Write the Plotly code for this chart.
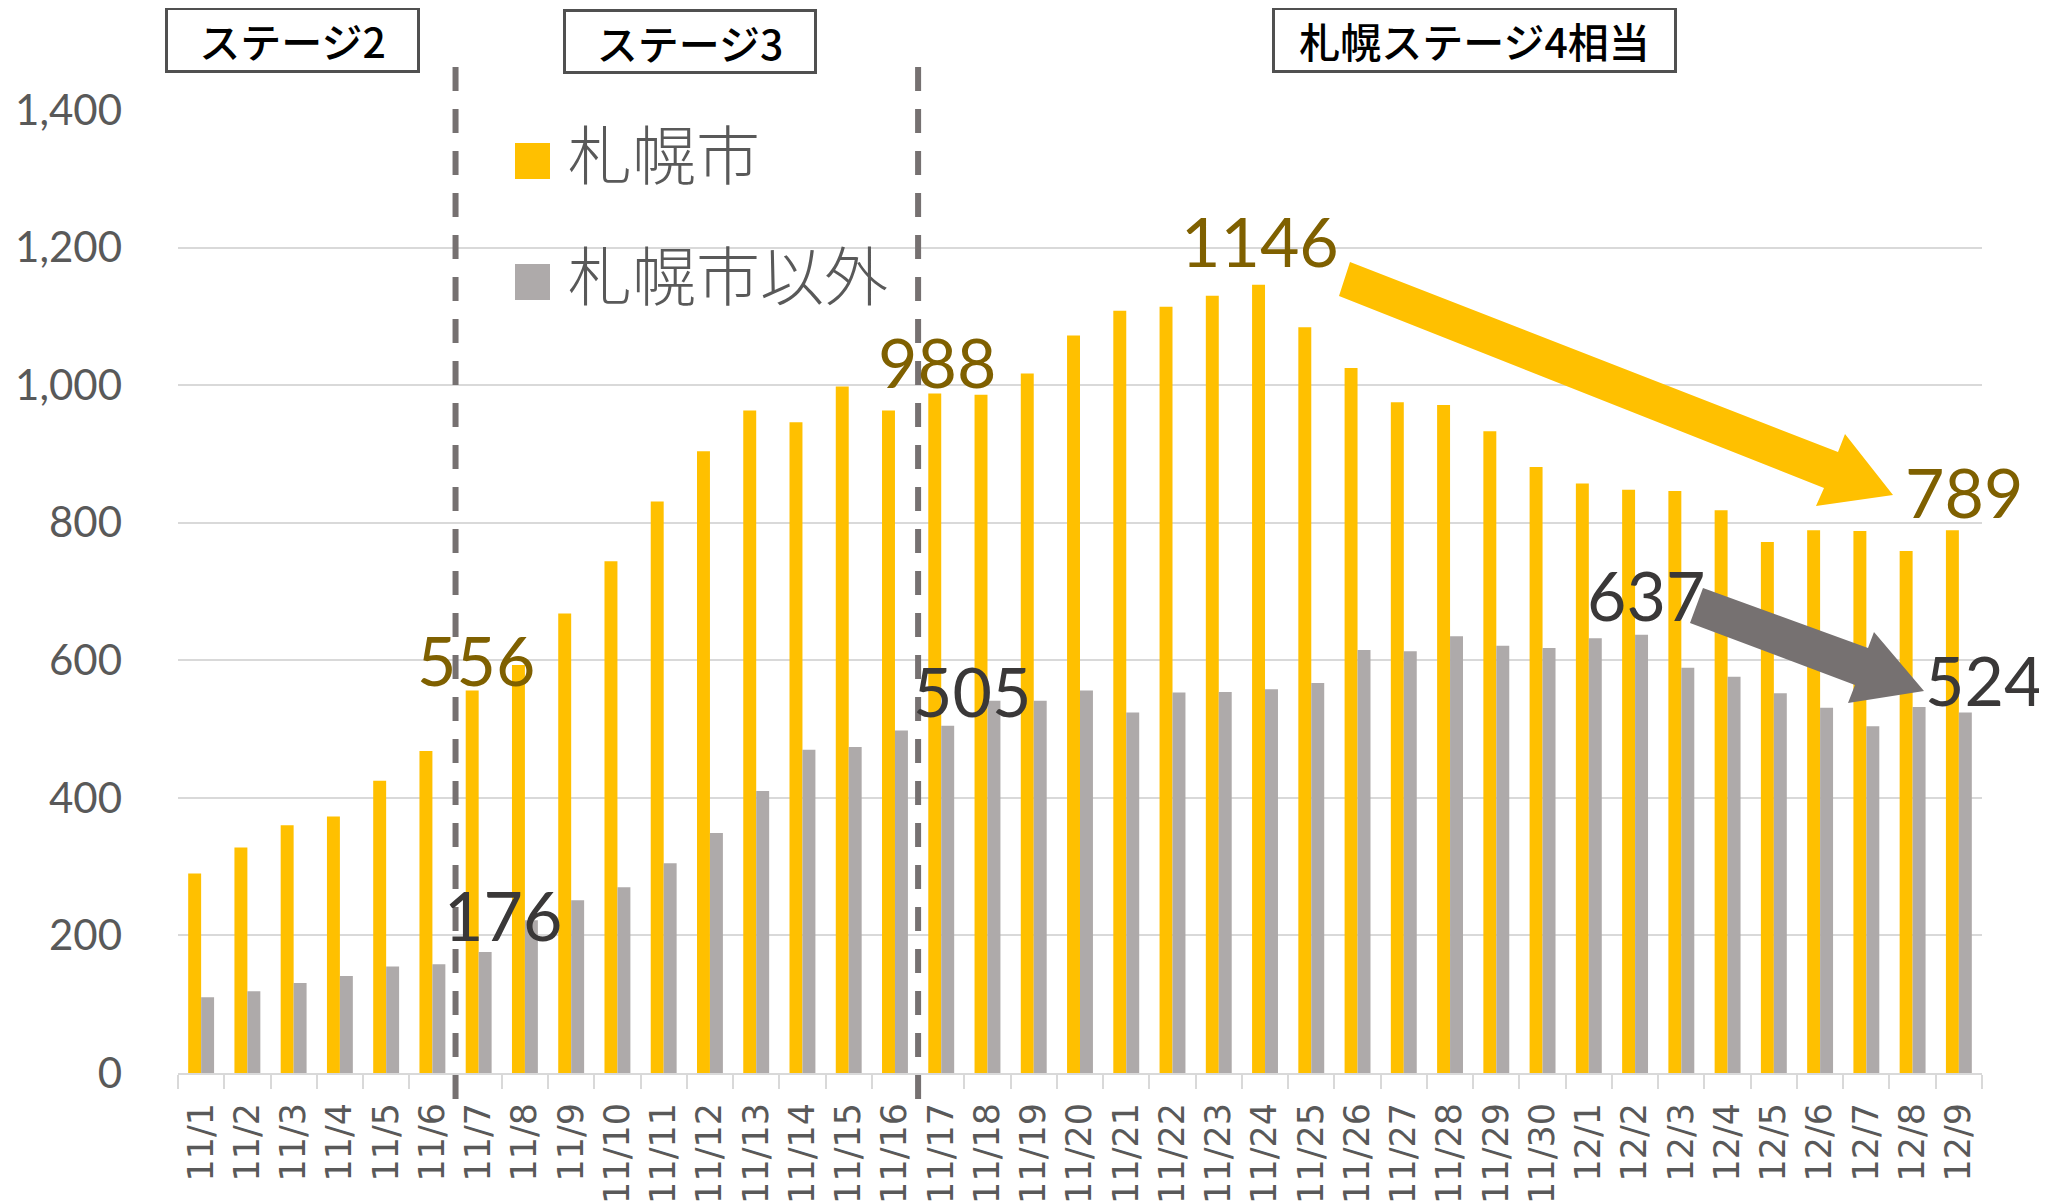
import plotly.graph_objects as go

dates = ["11/1", "11/2", "11/3", "11/4", "11/5", "11/6", "11/7", "11/8", "11/9", "11/10",
         "11/11", "11/12", "11/13", "11/14", "11/15", "11/16", "11/17", "11/18", "11/19", "11/20",
         "11/21", "11/22", "11/23", "11/24", "11/25", "11/26", "11/27", "11/28", "11/29", "11/30",
         "12/1", "12/2", "12/3", "12/4", "12/5", "12/6", "12/7", "12/8", "12/9"]

sapporo = [290, 328, 360, 373, 425, 468, 556, 593, 668, 744,
           831, 904, 963, 946, 998, 963, 988, 986, 1017, 1072,
           1108, 1114, 1130, 1146, 1084, 1025, 975, 971, 933, 881,
           857, 848, 846, 818, 772, 789, 788, 759, 789]

other = [110, 119, 131, 141, 155, 158, 176, 222, 251, 270,
         305, 349, 410, 470, 474, 498, 505, 541, 541, 556,
         524, 553, 554, 558, 567, 615, 613, 635, 621, 618,
         632, 637, 589, 576, 552, 531, 504, 532, 524]

series_names = ["札幌市", "札幌市以外"]
stage_labels = ["ステージ2", "ステージ3", "札幌ステージ4相当"]

# callouts: (date, series index, xshift px, yshift px)
callout_dates = ["11/7", "11/17", "11/24", "12/9", "11/7", "11/17", "12/2", "12/9"]
callout_series = [0, 0, 0, 0, 1, 1, 1, 1]
callout_dx = [-3, -4, -5, 5, 24, 31, 11, 25]
callout_dy = [31, 32, 44, 39, 37, 35, 40, 33]

YELLOW = "#FFC000"
GRAY = "#AEAAAA"
GOLD_TXT = "#7F6000"
DARK_TXT = "#3A3838"
AXIS_TXT = "#595959"
GRID = "#D9D9D9"
DIVIDER = "#767171"

# page body has an 8px margin: figure is drawn offset by 8px
OFF = 8
SCREEN_W, SCREEN_H = 2047, 1203
W, H = SCREEN_W - OFF, SCREEN_H - OFF
# plot area in screen pixels (for decorations)
L, R, T, B = 178, 1982, 110, 1073


def px(x):
    return (x - L) / (R - L)


def py(y):
    return (B - y) / (B - T)


fig = go.Figure()
fig.add_trace(go.Bar(x=dates, y=sapporo, name=series_names[0], marker_color=YELLOW,
                     marker_line_width=0))
fig.add_trace(go.Bar(x=dates, y=other, name=series_names[1], marker_color=GRAY,
                     marker_line_width=0))

shapes = []
annotations = []

# stage divider dashed lines (between 11/6|11/7 and 11/16|11/17)
for xb in [5.5, 15.5]:
    shapes.append(dict(type="line", xref="x", yref="paper", x0=xb, x1=xb,
                       y0=py(67), y1=py(1105),
                       line=dict(color=DIVIDER, width=6, dash="24px,18px")))

# stage boxes
boxes = [(165, 420, 7, 73), (563, 817, 9, 74), (1272, 1677, 7, 73)]
for (x0, x1, y0, y1), txt in zip(boxes, stage_labels):
    annotations.append(dict(xref="paper", yref="paper", x=px((x0 + x1) / 2), y=py((y0 + y1) / 2),
                            xanchor="center", yanchor="middle", showarrow=False,
                            text=txt, width=x1 - x0 - 6, height=y1 - y0 - 6,
                            borderpad=0, borderwidth=3, bordercolor="#505050", bgcolor="white",
                            font=dict(family="Noto Sans CJK JP", size=41, color="black",
                                      weight=500)))

# legend (manual, large squares)
leg = [(YELLOW, series_names[0], 143, 179), (GRAY, series_names[1], 264, 300)]
for col, name, y0, y1 in leg:
    shapes.append(dict(type="rect", xref="paper", yref="paper", x0=px(515), x1=px(550),
                       y0=py(y1), y1=py(y0), fillcolor=col, line=dict(width=0)))
    annotations.append(dict(xref="paper", yref="paper", x=px(566), y=py((y0 + y1) / 2 - 10),
                            xanchor="left", yanchor="middle", showarrow=False, text=name,
                            font=dict(family="Noto Sans CJK JP", size=64, color=AXIS_TXT,
                                      weight=300)))

# value callouts
for d, s, dx, dy in zip(callout_dates, callout_series, callout_dx, callout_dy):
    i = dates.index(d)
    v = (sapporo if s == 0 else other)[i]
    annotations.append(dict(xref="x", yref="y", x=i, y=v, text=str(v), showarrow=False,
                            xanchor="center", yanchor="middle", xshift=dx, yshift=dy,
                            font=dict(family="Lato", size=68,
                                      color=GOLD_TXT if s == 0 else DARK_TXT)))


def arrow_path(pts):
    return "M " + " L ".join(f"{px(x):.5f},{py(y):.5f}" for x, y in pts) + " Z"


yellow_arrow = [(1350, 262), (1838, 452), (1845, 434), (1893, 495), (1816, 506), (1824, 488), (1339, 296)]
gray_arrow = [(1703, 588), (1868, 648), (1874, 632), (1924, 691), (1848, 703), (1855, 685), (1690, 623)]
shapes.append(dict(type="path", xref="paper", yref="paper", path=arrow_path(yellow_arrow),
                   fillcolor=YELLOW, line=dict(width=0), layer="above"))
shapes.append(dict(type="path", xref="paper", yref="paper", path=arrow_path(gray_arrow),
                   fillcolor=DIVIDER, line=dict(width=0), layer="above"))

fig.update_layout(
    template="none",
    width=W, height=H,
    margin=dict(l=L - OFF, r=SCREEN_W - R, t=T - OFF, b=SCREEN_H - B, pad=0, autoexpand=False),
    paper_bgcolor="white", plot_bgcolor="white",
    showlegend=False,
    barmode="group", bargap=0.44, bargroupgap=0,
    shapes=shapes, annotations=annotations,
    xaxis=dict(type="category", range=[-0.5, len(dates) - 0.5], autorange=False,
               tickangle=-90, tickson="boundaries", ticks="outside",
               ticklen=14, tickwidth=2, tickcolor=GRID, showline=True, linecolor=GRID,
               linewidth=2, showgrid=False, automargin=False, ticklabelstandoff=14,
               tickfont=dict(family="DejaVu Sans", size=35, color=AXIS_TXT)),
    yaxis=dict(range=[0, 1400], autorange=False, dtick=200, tickformat=",", showgrid=True,
               gridcolor=GRID, gridwidth=2, zeroline=False, showline=False, ticks="",
               automargin=False, ticklabelstandoff=55,
               tickfont=dict(family="Lato", size=42, color=AXIS_TXT)),
)

fig.write_html("out.html")
